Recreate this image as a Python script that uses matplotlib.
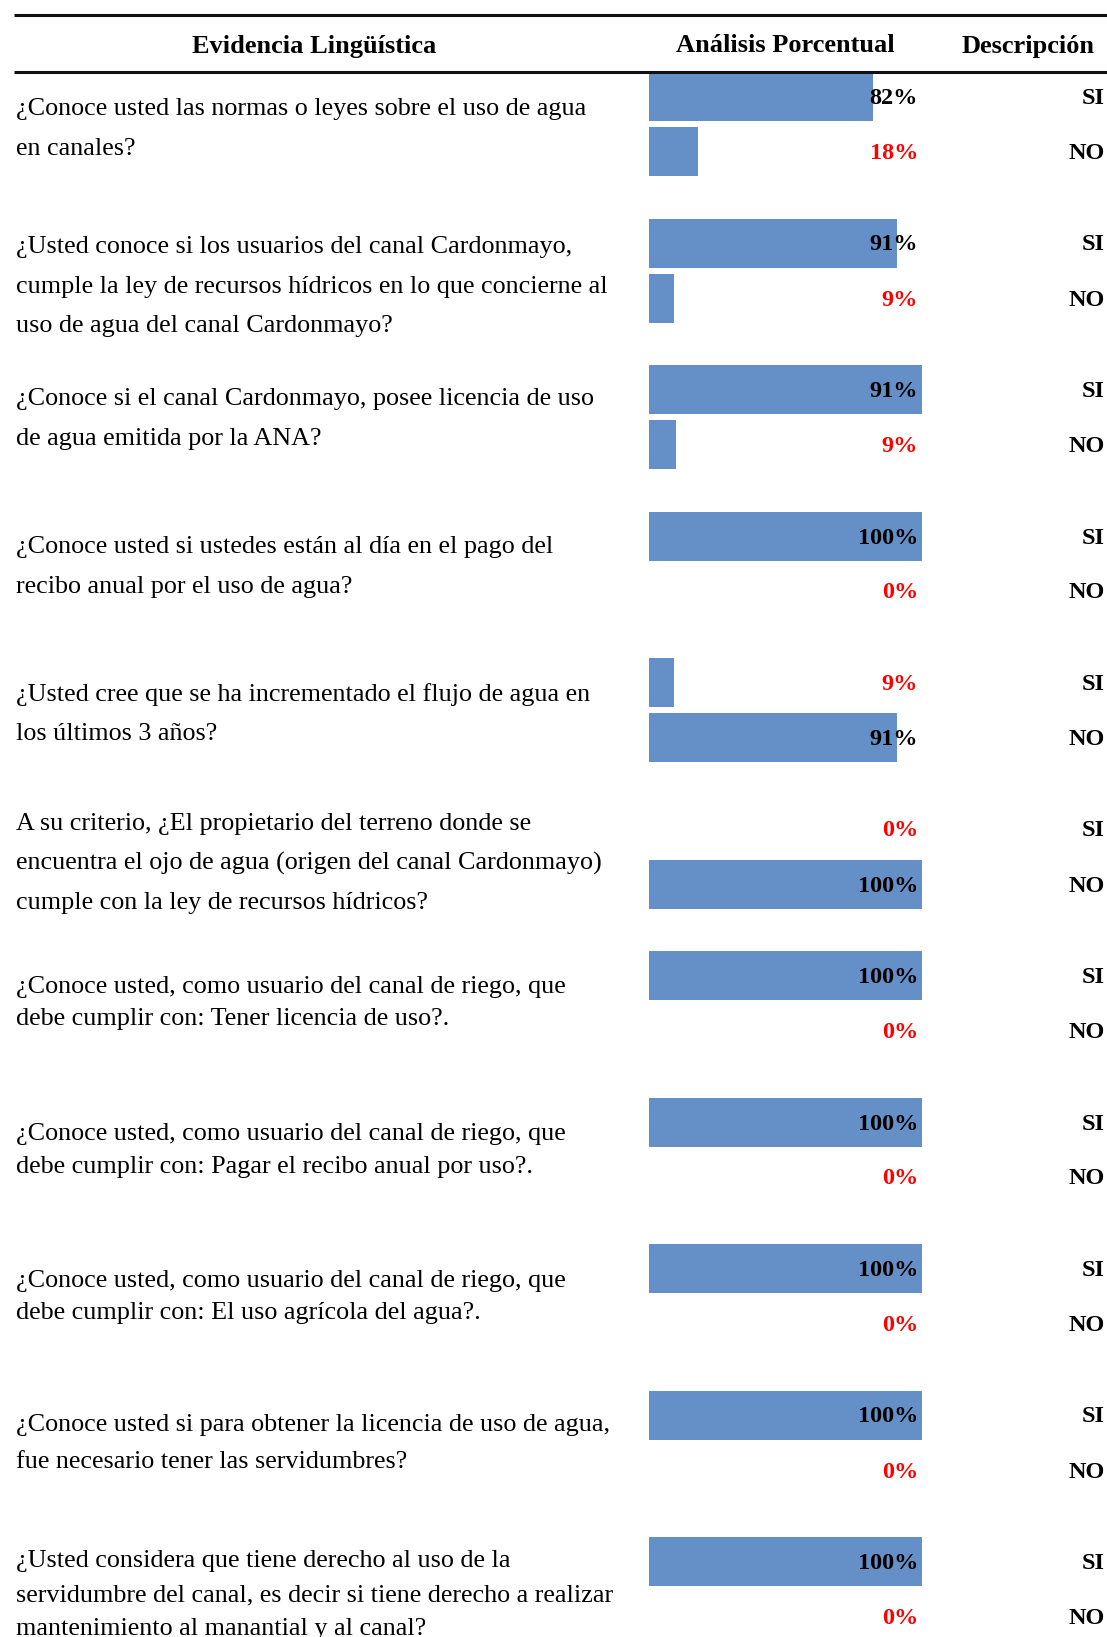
import matplotlib
matplotlib.use("Agg")
import matplotlib.pyplot as plt

W, H = 1107, 1637

questions = [
    ["¿Conoce usted las normas o leyes sobre el uso de agua", "en canales?"],
    ["¿Usted conoce si los usuarios del canal Cardonmayo,",
     "cumple la ley de recursos hídricos en lo que concierne al",
     "uso de agua del canal Cardonmayo?"],
    ["¿Conoce si el canal Cardonmayo, posee licencia de uso", "de agua emitida por la ANA?"],
    ["¿Conoce usted si ustedes están al día en el pago del", "recibo anual por el uso de agua?"],
    ["¿Usted cree que se ha incrementado el flujo de agua en", "los últimos 3 años?"],
    ["A su criterio, ¿El propietario del terreno donde se",
     "encuentra el ojo de agua (origen del canal Cardonmayo)",
     "cumple con la ley de recursos hídricos?"],
    ["¿Conoce usted, como usuario del canal de riego, que", "debe cumplir con: Tener licencia de uso?."],
    ["¿Conoce usted, como usuario del canal de riego, que", "debe cumplir con: Pagar el recibo anual por uso?."],
    ["¿Conoce usted, como usuario del canal de riego, que", "debe cumplir con: El uso agrícola del agua?."],
    ["¿Conoce usted si para obtener la licencia de uso de agua,", "fue necesario tener las servidumbres?"],
    ["¿Usted considera que tiene derecho al uso de la",
     "servidumbre del canal, es decir si tiene derecho a realizar",
     "mantenimiento al manantial y al canal?"],
]

# bar lengths as drawn (percent scale)
si_bar = [82, 91, 100, 100, 9, 0, 100, 100, 100, 100, 100]
no_bar = [18, 9, 10, 0, 91, 100, 0, 0, 0, 0, 0]
# percentage labels as printed
si_pct = [82, 91, 91, 100, 9, 0, 100, 100, 100, 100, 100]
no_pct = [18, 9, 9, 0, 91, 100, 0, 0, 0, 0, 0]
desc = ["SI", "NO"]
headers = ["Evidencia Lingüística", "Análisis Porcentual", "Descripción"]

# layout of the question text (first-line offset from SI row, line spacing), px
txt_off = [13, 4, 10, 11, 12, -5, 11, 12, 12, 10, 0]
txt_sp = [39.5, 39.5, 39.5, 39.5, 39.5, 39.5, 33, 33, 33, 37.5, 34]

BAR_COLOR = "#6590C7"
SERIF = ["Liberation Serif", "DejaVu Serif"]

fig = plt.figure(figsize=(W / 100, H / 100), dpi=100)

# bar axes
bx0, bx1 = 649, 922
bax = fig.add_axes([bx0 / W, 0, (bx1 - bx0) / W, 1])
bax.set_xlim(0, 100)
bax.set_ylim(H, 0)
bax.axis("off")

# overlay axes in pixel coordinates (on top of bars)
ov = fig.add_axes([0, 0, 1, 1])
ov.set_xlim(0, W)
ov.set_ylim(H, 0)
ov.axis("off")
ov.set_zorder(5)
ov.patch.set_alpha(0)

y0 = 96.5
period = 146.5
gap = 55
bar_h = 49

# header lines
ov.plot([14, W], [15, 15], color="#111111", lw=2.2, solid_capstyle="butt")
ov.plot([14, W], [72, 72], color="#111111", lw=2.2, solid_capstyle="butt")
hx = [314, 785, 1028]
for x, t in zip(hx, headers):
    ov.text(x, 46, t, ha="center", va="center", fontsize=19, fontweight="bold",
            family=SERIF, color="black")

si_y = [y0 + period * i for i in range(len(questions))]
no_y = [y + gap for y in si_y]

bax.barh(si_y, si_bar, height=bar_h, left=0, color=BAR_COLOR, edgecolor="none")
bax.barh(no_y, no_bar, height=bar_h, left=0, color=BAR_COLOR, edgecolor="none")

for i, lines in enumerate(questions):
    first = si_y[i] + txt_off[i]
    for k, ln in enumerate(lines):
        yy = first + k * txt_sp[i]
        ov.text(16, yy, ln, ha="left", va="center", fontsize=18.8,
                family=SERIF, color="black")
    for yy, v, d in ((si_y[i], si_pct[i], desc[0]), (no_y[i], no_pct[i], desc[1])):
        col = "#FF0000" if v < 50 else "black"
        ov.text(918, yy + 2, f"{v}%", ha="right", va="center", fontsize=17.5,
                fontweight="bold", family=SERIF, color=col)
        ov.text(1105, yy + 2, d, ha="right", va="center", fontsize=17.5,
                fontweight="bold", family=SERIF, color="black")

fig.savefig("out.png", dpi=100)
